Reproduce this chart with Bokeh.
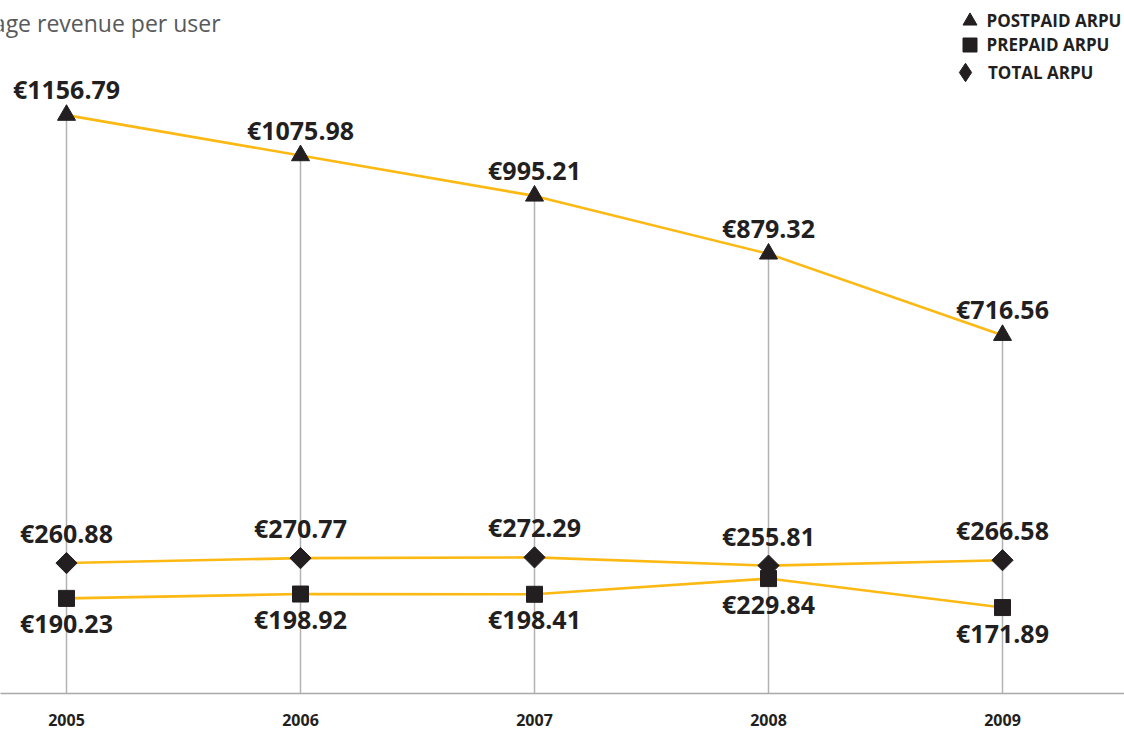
from bokeh.plotting import figure
from bokeh.models import (ColumnDataSource, Range1d, FixedTicker, Label, Legend, LegendItem)
from bokeh.core.properties import value
from bokeh.embed import file_html
from bokeh.resources import INLINE
import math

# ---- data ----
years = [2005, 2006, 2007, 2008, 2009]
year_labels = ["2005", "2006", "2007", "2008", "2009"]
postpaid = [1156.79, 1075.98, 995.21, 879.32, 716.56]
prepaid = [190.23, 198.92, 198.41, 229.84, 171.89]
total = [260.88, 270.77, 272.29, 255.81, 266.58]
series_names = ["POSTPAID ARPU", "PREPAID ARPU", "TOTAL ARPU"]
title_text = "Average revenue per user"

def fmt(v):
    return "€" + f"{v:.2f}"

ORANGE = "#FDB913"
DARK = "#231F20"
GRAY = "#B3B3B3"
FONT = "Open Sans"

W, H = 1124, 729
FRAME_H = 693
px_per_year = 234.0
left_px = 66.0
x0 = years[0] - left_px / px_per_year
x1 = x0 + W / px_per_year

p = figure(width=W, height=H, output_backend="svg", toolbar_location=None,
           x_range=Range1d(x0, x1), y_range=Range1d(0, 1386),
           min_border_left=0, min_border_right=0, min_border_top=0,
           min_border_bottom=H - FRAME_H)
p.outline_line_color = None
p.background_fill_color = "white"
p.border_fill_color = "white"
p.grid.visible = False
p.yaxis.visible = False

# x axis
p.xaxis.ticker = FixedTicker(ticks=years)
p.xaxis.major_label_overrides = {y: l for y, l in zip(years, year_labels)}
p.xaxis.axis_line_color = "#A7A9AC"
p.xaxis.axis_line_width = 1.5
p.xaxis.major_tick_line_color = None
p.xaxis.minor_tick_line_color = None
p.xaxis.major_label_standoff = 14
p.xaxis.major_label_text_font = FONT
p.xaxis.major_label_text_font_style = "bold"
p.xaxis.major_label_text_font_size = "16px"
p.xaxis.major_label_text_color = DARK

src = ColumnDataSource(dict(
    x=years, post=postpaid, pre=prepaid, tot=total, zero=[0] * len(years),
    post_l=[fmt(v) for v in postpaid],
    pre_l=[fmt(v) for v in prepaid],
    tot_l=[fmt(v) for v in total],
))

# vertical drop lines
p.segment(x0="x", y0="zero", x1="x", y1="post", source=src,
          line_color=GRAY, line_width=1.5)

# series lines
for col in ["post", "pre", "tot"]:
    p.line(x="x", y=col, source=src, line_color=ORANGE, line_width=2.6)

r_post = p.scatter(x="x", y="post", source=src, marker="triangle", size=18,
                   fill_color=DARK, line_color=DARK)
r_pre = p.scatter(x="x", y="pre", source=src, marker="square", size=16,
                  fill_color=DARK, line_color=DARK)
r_tot = p.scatter(x="x", y="tot", source=src, marker="square", size=15,
                  angle=math.pi / 4, fill_color=DARK, line_color=DARK)
# legend-only key for the diamond (legend keys ignore marker angle);
# a single NaN point so that nothing is drawn in the plot itself
r_tot_key = p.scatter(x=[float("nan")], y=[float("nan")], marker="diamond",
                      size=15, fill_color=DARK, line_color=DARK)

lab_kw = dict(text_font=value(FONT), text_font_style="bold",
              text_font_size="25px", text_color=DARK, text_align="center",
              text_baseline="alphabetic")
p.text(x="x", y="post", text="post_l", source=src, y_offset=-26, **lab_kw)
p.text(x="x", y="tot", text="tot_l", source=src, y_offset=-30, **lab_kw)
p.text(x="x", y="pre", text="pre_l", source=src, y_offset=25, **lab_kw)

# title (cut at the left edge like the original)
p.add_layout(Label(x=-56, y=671, x_units="screen", y_units="screen",
                   text=title_text, text_font=FONT, text_font_size="23px",
                   text_color="#58595B", text_baseline="alphabetic"))

# legend: one single-item legend per row so the row pitch can be tight
label_x = 987
rows = [(series_names[0], r_post, 969, 20, 35),
        (series_names[1], r_pre, 969, 44, 35),
        (series_names[2], r_tot_key, 965, 72, 46)]
for name, rend, cx, cy, gs in rows:
    lg = Legend(items=[LegendItem(label=name, renderers=[rend], index=0)],
                location=(cx - gs / 2, FRAME_H - (cy + gs / 2)))
    lg.background_fill_alpha = 0
    lg.border_line_color = None
    lg.padding = 0
    lg.margin = 0
    lg.glyph_width = gs
    lg.glyph_height = gs
    lg.label_height = gs
    lg.label_standoff = max(0, int(round(label_x - (cx + gs / 2))))
    lg.label_text_font = FONT
    lg.label_text_font_style = "bold"
    lg.label_text_font_size = "17px"
    lg.label_text_color = DARK
    p.add_layout(lg, "center")

open("out.html", "w").write(file_html(p, INLINE))
